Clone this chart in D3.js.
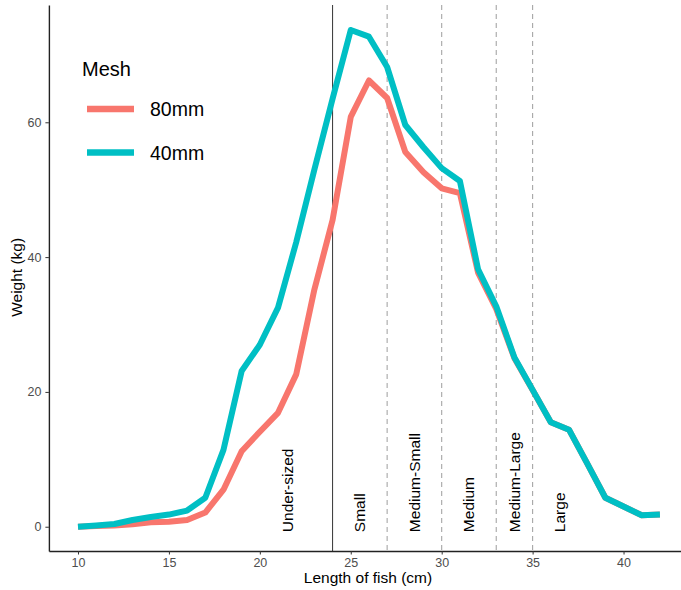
<!DOCTYPE html>
<html>
<head>
<meta charset="utf-8">
<script src="https://cdn.jsdelivr.net/npm/d3@7"></script>
<style>
  body { margin: 0; background: #fff; }
  text { font-family: "Liberation Sans", Arial, sans-serif; }
</style>
</head>
<body>
<svg></svg>
<script>
const SVG_WIDTH = 681, SVG_HEIGHT = 590;

// fish length (cm) and catch weight (kg) per mesh size
const lengths = [10, 11, 12, 13, 14, 15, 16, 17, 18, 19, 20, 21, 22, 23, 24, 25, 26,
                 27, 28, 29, 30, 31, 32, 33, 34, 35, 36, 37, 38, 39, 40, 41, 42];
const mesh80 = [0, 0.1, 0.2, 0.35, 0.65, 0.75, 1.0, 2.1, 5.5, 11.2, 14.1, 16.9, 22.6, 35.2, 45.5, 60.8, 66.2,
                63.6, 55.6, 52.6, 50.2, 49.5, 37.7, 32.3, 25.0, 20.3, 15.5, 14.4, 9.4, 4.3, 3.0, 1.7, 1.8];
const mesh40 = [0, 0.2, 0.4, 1.0, 1.45, 1.8, 2.4, 4.3, 11.4, 23.1, 27.0, 32.5, 42.2, 53.0, 63.5, 73.7, 72.7,
                68.2, 59.6, 56.3, 53.2, 51.3, 38.2, 32.7, 25.1, 20.3, 15.5, 14.4, 9.4, 4.3, 3.0, 1.7, 1.8];
const seriesNames = ["80mm", "40mm"];
const seriesColors = ["#F8766D", "#00BFC4"];

const xTicks = [10, 15, 20, 25, 30, 35, 40];
const yTicks = [0, 20, 40, 60];

const legalSize = 24;
const classBreaks = [27, 30, 33, 35];
const classNames = ["Under-sized", "Small", "Medium-Small", "Medium", "Medium-Large", "Large"];
const classLabelX = [21.5, 25.5, 28.5, 31.5, 34, 36.5];

const x = d3.scaleLinear().domain([8.4, 43.6]).range([48.9, 689]);
const y = d3.scaleLinear().domain([-3.6, 77.4]).range([551, 5]);

const svg = d3.select("svg")
    .attr("width", SVG_WIDTH)
    .attr("height", SVG_HEIGHT);

// size class boundaries
svg.selectAll("line.break").data(classBreaks).enter().append("line")
    .attr("class", "break")
    .attr("x1", d => x(d)).attr("x2", d => x(d))
    .attr("y1", y.range()[1]).attr("y2", y.range()[0])
    .attr("stroke", "#a6a6a6")
    .attr("stroke-width", 1.1)
    .attr("stroke-dasharray", "5,4");

svg.append("line")
    .attr("x1", x(legalSize)).attr("x2", x(legalSize))
    .attr("y1", y.range()[1]).attr("y2", y.range()[0])
    .attr("stroke", "#333")
    .attr("stroke-width", 1);

svg.selectAll("text.cls").data(classNames).enter().append("text")
    .attr("class", "cls")
    .attr("transform", (d, i) => "translate(" + x(classLabelX[i]) + "," + y(-0.8) + ") rotate(-90)")
    .attr("dy", "0.35em")
    .style("font-size", "15.5px")
    .attr("fill", "#000")
    .text(d => d);

// lines
const line = d3.line().x((d, i) => x(lengths[i])).y(d => y(d));
svg.selectAll("path.series").data([mesh80, mesh40]).enter().append("path")
    .attr("class", "series")
    .attr("d", line)
    .attr("fill", "none")
    .attr("stroke", (d, i) => seriesColors[i])
    .attr("stroke-width", 6)
    .attr("stroke-linejoin", "round");

// axes
const xAxis = svg.append("g")
    .attr("transform", "translate(0," + y.range()[0] + ")")
    .call(d3.axisBottom(x).tickValues(xTicks).tickSizeInner(3.5).tickSizeOuter(0).tickPadding(4));
const yAxis = svg.append("g")
    .attr("transform", "translate(" + x.range()[0] + ",0)")
    .call(d3.axisLeft(y).tickValues(yTicks).tickSizeInner(3.5).tickSizeOuter(0).tickPadding(4));
[xAxis, yAxis].forEach(function(ax) {
    ax.select(".domain").attr("stroke", "#222").attr("stroke-width", 1.4);
    ax.selectAll(".tick line").attr("stroke", "#333");
    ax.selectAll(".tick text")
        .attr("fill", "#4d4d4d")
        .style("font-size", "12.5px")
        .style("font-family", "'Liberation Sans', Arial, sans-serif");
});

svg.append("text")
    .attr("x", 368).attr("y", 583)
    .attr("text-anchor", "middle")
    .style("font-size", "15.5px")
    .text("Length of fish (cm)");

svg.append("text")
    .attr("transform", "translate(22," + y(37) + ") rotate(-90)")
    .attr("text-anchor", "middle")
    .style("font-size", "15.5px")
    .text("Weight (kg)");

// legend
const legend = svg.append("g").attr("transform", "translate(82,0)");
legend.append("text")
    .attr("x", 0).attr("y", 76)
    .style("font-size", "20px")
    .text("Mesh");
const keys = legend.selectAll("g.key").data(seriesNames).enter().append("g")
    .attr("class", "key")
    .attr("transform", (d, i) => "translate(0," + (109 + i * 43.5) + ")");
keys.append("line")
    .attr("x1", 5).attr("x2", 52)
    .attr("stroke", (d, i) => seriesColors[i])
    .attr("stroke-width", 6.5);
keys.append("text")
    .attr("x", 68).attr("dy", "0.36em")
    .style("font-size", "19.5px")
    .text(d => d);
</script>
</body>
</html>
